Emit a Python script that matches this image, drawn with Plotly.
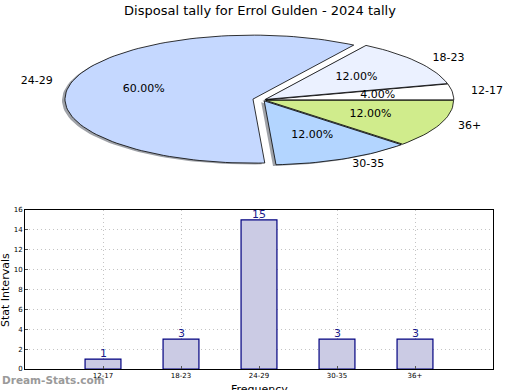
import math
import plotly.graph_objects as go

# ---- data ----
categories = ["12-17", "18-23", "24-29", "30-35", "36+"]
counts = [1, 3, 15, 3, 3]
slice_colors = ["#FFFFFF", "#EBF1FF", "#C5D8FF", "#B3D5FF", "#D0EC8C"]
explode = [0.015, 0.015, 0.055, 0.015, 0.015]
y_ticks = [0, 2, 4, 6, 8, 10, 12, 14, 16]
title_text = "Disposal tally for Errol Gulden - 2024 tally"

W, H = 520, 390
FONT = "DejaVu Sans"

fig = go.Figure()

# ---- pie (elliptical, drawn on its own axes: 1 unit = radius) ----
total = sum(counts)
shadow_dx, shadow_dy = -0.016, -0.02
start = 0.0
wedges = []
for cat, v, col, ex in zip(categories, counts, slice_colors, explode):
    frac = v / total
    t1 = start
    t2 = start + 360.0 * frac
    mid = math.radians((t1 + t2) / 2)
    ox, oy = ex * math.cos(mid), ex * math.sin(mid)
    n = max(8, int((t2 - t1) / 2))
    xs = [ox]
    ys = [oy]
    for i in range(n + 1):
        a = math.radians(t1 + (t2 - t1) * i / n)
        xs.append(ox + math.cos(a))
        ys.append(oy + math.sin(a))
    xs.append(ox)
    ys.append(oy)
    wedges.append((cat, v, col, xs, ys, mid, ox, oy, frac))
    start = t2

# shadows first
for cat, v, col, xs, ys, mid, ox, oy, frac in wedges:
    fig.add_trace(go.Scatter(
        x=[x + shadow_dx for x in xs], y=[y + shadow_dy for y in ys],
        xaxis="x2", yaxis="y2", mode="lines", fill="toself",
        fillcolor="rgba(95,100,110,0.6)", line=dict(width=0),
        hoverinfo="skip", showlegend=False))

for cat, v, col, xs, ys, mid, ox, oy, frac in wedges:
    fig.add_trace(go.Scatter(
        x=xs, y=ys, xaxis="x2", yaxis="y2", mode="lines", fill="toself",
        fillcolor=col, line=dict(color="black", width=0.8),
        name=cat, showlegend=False))

# percent labels
fig.add_trace(go.Scatter(
    x=[w[6] + 0.6 * math.cos(w[5]) for w in wedges],
    y=[w[7] + 0.6 * math.sin(w[5]) for w in wedges],
    text=["%.2f%%" % (w[8] * 100) for w in wedges],
    mode="text", xaxis="x2", yaxis="y2",
    textfont=dict(family=FONT, size=11, color="black"),
    textposition="middle center", showlegend=False, hoverinfo="skip"))

# category labels
for w in wedges:
    lx = w[6] + 1.1 * math.cos(w[5])
    ly = w[7] + 1.1 * math.sin(w[5])
    fig.add_trace(go.Scatter(
        x=[lx], y=[ly], text=[w[0]], mode="text", xaxis="x2", yaxis="y2",
        textfont=dict(family=FONT, size=11, color="black"),
        textposition="middle right" if lx >= 0 else "middle left",
        showlegend=False, hoverinfo="skip"))

# ---- bar chart ----
fig.add_trace(go.Bar(
    x=categories, y=counts, width=0.46,
    marker=dict(color="#CBCBE4", line=dict(color="#000080", width=1.2)),
    showlegend=False, xaxis="x", yaxis="y"))

bar_labels = [
    dict(x=c, y=v, xref="x", yref="y", text=str(v), showarrow=False,
         xanchor="center", yanchor="bottom", yshift=-3,
         font=dict(family=FONT, size=11, color="#1A1A8C"))
    for c, v in zip(categories, counts)
]

cx, rx = 263.0, 188.0
cy, ry = 100.0, 64.0
pie_top, pie_bot = 0.0, 195.0

grid_style = dict(showgrid=True, gridcolor="#C4C4C4", griddash="1px,3px", gridwidth=1)

fig.update_layout(
    width=W, height=H,
    margin=dict(l=0, r=0, t=0, b=0, autoexpand=False),
    paper_bgcolor="white", plot_bgcolor="white",
    font=dict(family=FONT, color="black"),
    title=dict(text=title_text, x=0.5, xanchor="center",
               y=1 - 10 / H, yanchor="middle", automargin=False,
               font=dict(family=FONT, size=13, color="black")),
    xaxis2=dict(domain=[0, 1], range=[-cx / rx, (W - cx) / rx],
                visible=False, fixedrange=True, automargin=False),
    yaxis2=dict(domain=[1 - pie_bot / H, 1],
                range=[-(pie_bot - cy) / ry, (cy - pie_top) / ry],
                visible=False, fixedrange=True, automargin=False),
    xaxis=dict(domain=[25 / W, 493 / W], range=[-1, 5], type="category",
               showline=True, mirror=True, linecolor="black", linewidth=1,
               ticks="inside", ticklen=3, tickcolor="#555",
               tickfont=dict(family=FONT, size=7, color="black"),
               anchor="y", zeroline=False, automargin=False, **grid_style),
    yaxis=dict(domain=[(H - 369) / H, (H - 210) / H], range=[0, 16],
               tickvals=y_ticks,
               showline=True, mirror=True, linecolor="black", linewidth=1,
               ticks="inside", ticklen=3, tickcolor="#555",
               tickfont=dict(family=FONT, size=7, color="black"),
               anchor="x", zeroline=False, automargin=False, **grid_style),
    annotations=bar_labels + [
        dict(text="Stat Intervals", x=5 / W, y=1 - 290 / H, xref="paper", yref="paper",
             textangle=-90, showarrow=False, xanchor="center", yanchor="middle",
             font=dict(family=FONT, size=11, color="black")),
        dict(text="Frequency", x=259 / W, y=1 - 389 / H, xref="paper", yref="paper",
             showarrow=False, xanchor="center", yanchor="middle",
             font=dict(family=FONT, size=11, color="black")),
        dict(text="<b>Dream-Stats.com</b>", x=0 / W, y=1 - 380 / H, xref="paper", yref="paper",
             showarrow=False, xanchor="left", yanchor="middle",
             font=dict(family=FONT, size=10.5, color="#9A9A9A")),
    ],
)

fig.write_html("out.html", config={"displayModeBar": False},
               post_script="document.body.style.margin='0';document.body.style.padding='0';")
